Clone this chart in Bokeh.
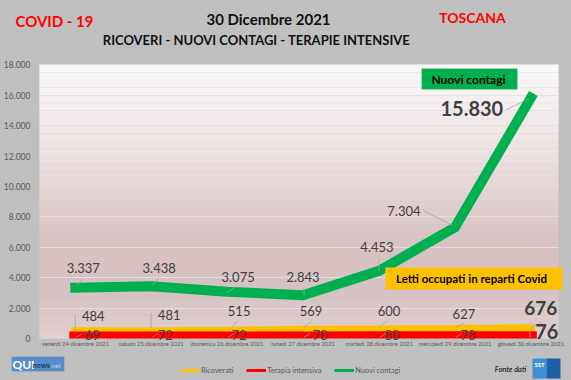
from bokeh.plotting import figure
from bokeh.models import (ColumnDataSource, Range1d, FixedTicker, LabelSet, Label,
                          Legend, LegendItem, BoxAnnotation)
from bokeh.core.properties import value
from bokeh.embed import file_html
from bokeh.resources import INLINE

# ---------------- data ----------------
dates = ["venerdì 24 dicembre 2021", "sabato 25 dicembre 2021", "domenica 26 dicembre 2021",
         "lunedì 27 dicembre 2021", "martedì 28 dicembre 2021", "mercoledì 29 dicembre 2021",
         "giovedì 30 dicembre 2021"]
ricoverati = [484, 481, 515, 569, 600, 627, 676]
terapia_intensiva = [69, 72, 72, 70, 80, 78, 76]
nuovi_contagi = [3337, 3438, 3075, 2843, 4453, 7304, 15830]
y_ticks = [0, 2000, 4000, 6000, 8000, 10000, 12000, 14000, 16000, 18000]
y_tick_labels = ["0", "2.000", "4.000", "6.000", "8.000", "10.000", "12.000", "14.000", "16.000", "18.000"]

# label placement (screen px offsets from the point: right, up)
green_dx = [8, 8, 11, 0, -2, -51, -59]
green_dy = [20, 18, 15, 18, 24, 16, -11]
yellow_dx = [18, 18, 12, 8, 10, 9, 10]
yellow_dy = [15, 16, 20, 19, 18, 15, 20]
red_dx = [17, 14, 12, 17, 13, 13, 16]
red_dy = [2, 2, 2, 2, 2, 2, 6]
# leader lines (px offsets from the point: start x, start y, end x, end y)
green_lead = [(2, 2, 7, 9), (1, 1, 8, 8), (0, -1, 8, 5), (1, 0, 1, 7), (0, 0, 0, 13),
              (-2, 2, -32, 17), (-2, -1, -25, -12)]
yellow_lead = [(0, 3, 0, 17), (0, 3, 0, 18), (2, 0, 11, 10), (0, 2, 10, 10), (0, 2, 9, 9),
               (0, 1, 9, 6), (0, 0, 10, 6)]
red_lead = [(1, 0, 7, 4), (1, 0, 7, 4), (1, 0, 7, 4), (1, 0, 7, 4), (1, 0, 7, 4),
            (1, 0, 7, 4), (-1, 0, -1, 6)]

def it_fmt(v):
    return f"{v:,}".replace(",", ".")

idx = list(range(len(dates)))
GREEN, RED, YELLOW = "#00B050", "#FF0000", "#FFC000"
BG = "#BFBFBF"
FONT = "Lato"
TXT = "#404040"
W, H = 571, 380

# plot-area geometry (canvas px): category 0 at x=73, step 76.2; value 0 at y=338, 18000 at y=64.3
X0, DX = 73.0, 76.2
Y0, Y18 = 338.0, 64.3
per_px = 18000.0 / (Y0 - Y18)
PA_L, PA_R = (37 - X0) / DX, (558 - X0) / DX      # plot area left/right in x units

p = figure(width=W, height=H, output_backend="svg", toolbar_location=None,
           x_range=Range1d(-X0 / DX, (W - X0) / DX),
           y_range=Range1d(-(H - Y0) * per_px, 18000 + Y18 * per_px),
           min_border=0, min_border_left=0, min_border_right=0,
           min_border_top=0, min_border_bottom=0)
p.background_fill_color = BG
p.border_fill_color = BG
p.outline_line_color = None

# gradient background of the plot area
stops = [(18000, (250, 248, 248)), (12000, (236, 224, 224)), (6000, (215, 193, 193)),
         (3000, (214, 194, 194)), (0, (226, 209, 209))]
band = 500
y = 0
while y < 18000:
    mid = y + band / 2
    for (a, ca), (b, cb) in zip(stops[1:], stops[:-1]):
        if a <= mid <= b:
            t = (mid - a) / (b - a)
            c = tuple(int(round(ca[k] + (cb[k] - ca[k]) * t)) for k in range(3))
            break
    p.add_layout(BoxAnnotation(left=PA_L, right=PA_R, bottom=y, top=y + band,
                               fill_color="#%02x%02x%02x" % c, fill_alpha=1,
                               line_color=None, level="image"))
    y += band

# axes (labels pulled into the canvas with negative standoff)
p.yaxis.ticker = FixedTicker(ticks=y_ticks)
p.yaxis.major_label_overrides = {t: l for t, l in zip(y_ticks, y_tick_labels)}
p.xaxis.ticker = FixedTicker(ticks=idx)
p.xaxis.major_label_overrides = {i: d for i, d in zip(idx, dates)}
for ax in (p.xaxis, p.yaxis):
    ax.axis_line_color = None
    ax.major_tick_line_color = None
    ax.minor_tick_line_color = None
    ax.major_tick_out = 0
    ax.major_tick_in = 0
    ax.major_label_text_color = "#595959"
    ax.major_label_text_font = FONT
p.yaxis.major_label_text_font_size = "8.5px"
p.yaxis.major_label_standoff = -28
p.xaxis.major_label_text_font_size = "5.8px"
p.xaxis.major_label_standoff = -(H - 339)

# grid limited to the plot area
p.xgrid.grid_line_color = None
GRID = "#E6DEDE"
g = p.ygrid[0]
if "cross_bounds" in g.properties():
    g.ticker = FixedTicker(ticks=y_ticks)
    g.cross_bounds = (PA_L, PA_R)
    g.grid_line_color = GRID
else:
    g.grid_line_color = None
    for t in y_ticks[1:]:
        p.add_layout(BoxAnnotation(left=PA_L, right=PA_R, bottom=t, top=t, fill_alpha=0,
                                   line_color=GRID, line_width=1, level="underlay"))

# series (thin copies underneath serve as legend samples)
src = ColumnDataSource(dict(x=idx, ric=ricoverati, ti=terapia_intensiva, nc=nuovi_contagi))
leg_ric = p.line("x", "ric", source=src, line_color=YELLOW, line_width=3)
leg_ti = p.line("x", "ti", source=src, line_color=RED, line_width=3)
leg_nc = p.line("x", "nc", source=src, line_color=GREEN, line_width=3)
p.line("x", "ric", source=src, line_color=YELLOW, line_width=8, line_cap="square")
p.line("x", "ti", source=src, line_color=RED, line_width=12, line_cap="square")
p.line("x", "nc", source=src, line_color=GREEN, line_width=10, line_cap="square", line_join="miter")
# hide the part of the thick lines that falls below the plot area
p.add_layout(BoxAnnotation(left=PA_L - 0.2, right=PA_R + 0.2, bottom=-(H - Y0) * per_px, top=0,
                           fill_color=BG, fill_alpha=1, line_color=None, level="glyph"))

# leader lines
def add_leaders(vals, leads):
    x0 = [i + a / DX for i, (a, b, c, d) in zip(idx, leads)]
    y0 = [v + b * per_px for v, (a, b, c, d) in zip(vals, leads)]
    x1 = [i + c / DX for i, (a, b, c, d) in zip(idx, leads)]
    y1 = [v + d * per_px for v, (a, b, c, d) in zip(vals, leads)]
    p.segment(x0=x0, y0=y0, x1=x1, y1=y1, line_color="#A6A6A6", line_width=0.8)

add_leaders(nuovi_contagi, green_lead)
add_leaders(ricoverati, yellow_lead)
add_leaders(terapia_intensiva, red_lead)

def add_labels(vals, dx, dy, big_size, small_size):
    n = len(vals)
    s = ColumnDataSource(dict(
        x=idx, y=vals, t=[it_fmt(v) for v in vals], dx=dx, dy=dy,
        fs=[small_size] * (n - 1) + [big_size],
        st=["normal"] * (n - 1) + ["bold"]))
    p.add_layout(LabelSet(x="x", y="y", text="t", source=s, x_offset="dx", y_offset="dy",
                          text_align="center", text_baseline="middle",
                          text_font=value(FONT), text_font_size="fs", text_font_style="st",
                          text_color=TXT))

add_labels(nuovi_contagi, green_dx, green_dy, "20px", "13px")
add_labels(ricoverati, yellow_dx, yellow_dy, "19px", "13px")
add_labels(terapia_intensiva, red_dx, red_dy, "20px", "13px")

# ---- decorations in canvas px (frame == canvas) ----
def sy(Y): return H - Y

def sbox(x0, x1, y0, y1, color, line=None):
    p.add_layout(BoxAnnotation(left=x0, right=x1, top=sy(y0), bottom=sy(y1),
                               left_units="screen", right_units="screen",
                               top_units="screen", bottom_units="screen",
                               fill_color=color, fill_alpha=1, line_color=line))

def stext(X, Y, s, size, color="#000000", style="bold", align="center"):
    p.add_layout(Label(x=X, y=sy(Y), x_units="screen", y_units="screen", text=s,
                       text_font=FONT, text_font_size=size, text_font_style=style,
                       text_color=color, text_align=align, text_baseline="middle"))

# call-outs
sbox(419, 515, 68, 89, GREEN, "#E0E0E0")
stext(466, 78.5, "Nuovi contagi", "12px")
sbox(383, 560, 267, 289, YELLOW)
stext(469, 278, "Letti occupati in reparti Covid", "11.5px")

# titles
stext(52, 20.5, "COVID - 19", "15px", "#FF0000")
stext(266, 18.5, "30 Dicembre 2021", "15px", "#111111")
stext(254, 39.5, "RICOVERI - NUOVI CONTAGI - TERAPIE INTENSIVE", "13px", "#111111")
stext(470, 17, "TOSCANA", "14px", "#FF0000")

# footer
sbox(9, 62, 356, 371, "#5A8CC6", "#B7CDE8")
stext(10, 363.5, "QUI", "12px", "#FFFFFF", "bold", "left")
stext(30, 365, "news", "7.5px", "#1F3864", "bold", "left")
stext(48, 365, ".net", "6px", "#C9DAF0", "normal", "left")
stext(508, 369, "Fonte dati", "7.5px", "#000000", "italic")
sbox(530, 544, 358, 378, "#3D8FD6")
sbox(544, 558, 358, 378, "#1F5FA8")
stext(537, 364, "SST", "6px", "#FFFFFF", "bold")

leg = Legend(items=[LegendItem(label="Ricoverati", renderers=[leg_ric]),
                    LegendItem(label="Terapia intensiva", renderers=[leg_ti]),
                    LegendItem(label="Nuovi contagi", renderers=[leg_nc])],
             orientation="horizontal", location=(178, H - 375),
             glyph_width=20, glyph_height=10, label_height=10, label_standoff=1,
             spacing=13, padding=0, margin=0, border_line_color=None,
             background_fill_alpha=0, label_text_font=FONT, label_text_font_size="7.4px",
             label_text_color="#595959")
p.add_layout(leg)

html = file_html(p, INLINE)
html = html.replace("<head>", "<head><style>html,body{background:#BFBFBF;}</style>", 1)
open("out.html", "w").write(html)
